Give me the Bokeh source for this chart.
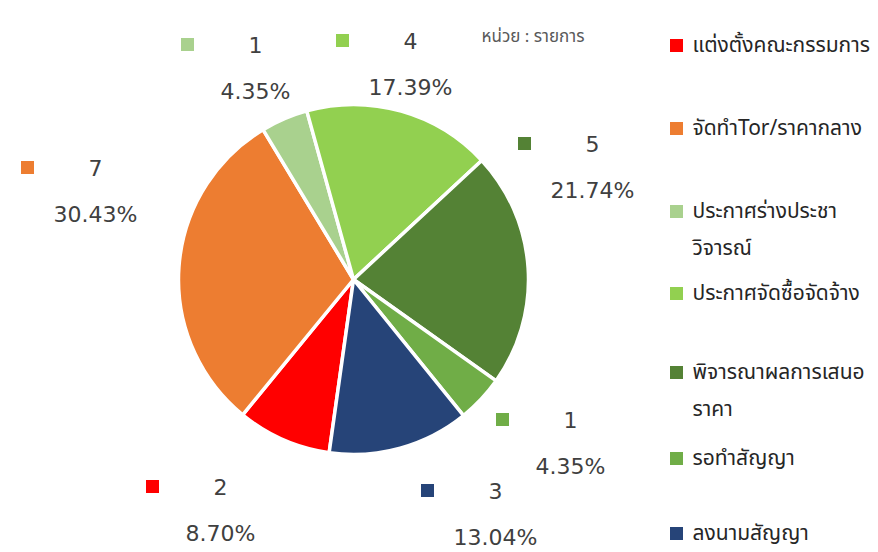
import math
from bokeh.plotting import figure
from bokeh.models import Range1d
from bokeh.core.properties import value
from bokeh.embed import file_html
from bokeh.resources import INLINE

# ---- data ----
categories = ["แต่งตั้งคณะกรรมการ", "จัดทำTor/ราคากลาง", "ประกาศร่างประชาวิจารณ์",
              "ประกาศจัดซื้อจัดจ้าง", "พิจารณาผลการเสนอราคา", "รอทำสัญญา", "ลงนามสัญญา"]
legend_lines = [["แต่งตั้งคณะกรรมการ"], ["จัดทำTor/ราคากลาง"], ["ประกาศร่างประชา", "วิจารณ์"],
                ["ประกาศจัดซื้อจัดจ้าง"], ["พิจารณาผลการเสนอ", "ราคา"], ["รอทำสัญญา"], ["ลงนามสัญญา"]]
counts = [2, 7, 1, 4, 5, 1, 3]
colors = ["#FF0000", "#ED7D31", "#A9D18E", "#92D050", "#548235", "#70AD47", "#264478"]
unit_label = "หน่วย : รายการ"

# ---- layout (image pixel coords, y downward) ----
W, H = 878, 552
cx, cy, R = 353, 279, 175
first_angle_deg = 188.0  # first slice starts here, clockwise from 12 o'clock
# data label anchors (value text x, first-row y)
label_pos = [(220, 486), (95, 167), (255, 44), (410, 40), (592, 143), (570, 419), (495, 490)]
legend_y = [45, 128, 211, 293, 372, 458, 533]
legend_step = 37


def Y(y):
    return H - y


p = figure(width=W, height=H, output_backend="svg", toolbar_location=None,
           x_range=Range1d(0, W), y_range=Range1d(0, H), min_border=0)
p.axis.visible = False
p.grid.visible = False
p.outline_line_color = None
p.background_fill_color = "white"

total = sum(counts)
starts, ends = [], []
cum = 0
for c in counts:
    a0 = first_angle_deg + cum / total * 360
    a1 = first_angle_deg + (cum + c) / total * 360
    starts.append(math.radians(90 - a0))
    ends.append(math.radians(90 - a1))
    cum += c

p.wedge(x=cx, y=Y(cy), radius=R, start_angle=starts, end_angle=ends, direction="clock",
        fill_color=colors, line_color="white", line_width=3.5)

label_font = value("DejaVu Sans")
thai_font = value("Tahoma, 'Noto Sans Thai', 'Noto Sans', sans-serif")
label_color = "#404040"

for i, c in enumerate(counts):
    lx, ly = label_pos[i]
    pct = "%.2f%%" % (c / total * 100)
    p.rect(x=lx - 68, y=Y(ly), width=13, height=13, fill_color=colors[i], line_color=None)
    p.text(x=[lx], y=[Y(ly)], text=[str(c)], text_align="center", text_baseline="middle",
           text_font=label_font, text_font_size="22px", text_color=label_color)
    p.text(x=[lx], y=[Y(ly + 47)], text=[pct], text_align="center", text_baseline="middle",
           text_font=label_font, text_font_size="22px", text_color=label_color)

p.text(x=[481], y=[Y(36)], text=[unit_label], text_align="left", text_baseline="middle",
       text_font=thai_font, text_font_size="17px", text_color="#595959")

for i, lines in enumerate(legend_lines):
    ly = legend_y[i]
    p.rect(x=676, y=Y(ly), width=13, height=13, fill_color=colors[i], line_color=None)
    for j, t in enumerate(lines):
        p.text(x=[692], y=[Y(ly + j * legend_step)], text=[t], text_align="left",
               text_baseline="middle", text_font=thai_font, text_font_size="21px",
               text_color="#262626")

open("out.html", "w").write(file_html(p, INLINE))
